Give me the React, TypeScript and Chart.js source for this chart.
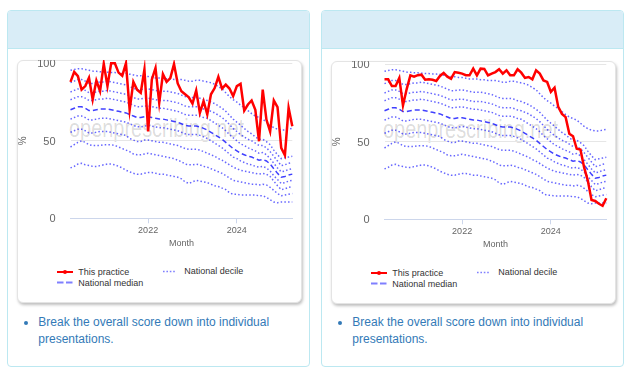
import React, { useEffect, useRef } from 'react';
import { Chart, registerables } from 'chart.js';

Chart.register(...registerables);

const FONT = "'Liberation Sans', Arial, Helvetica, sans-serif";

const MONTHS = [
  '2020-04', '2020-05', '2020-06', '2020-07', '2020-08', '2020-09', '2020-10', '2020-11', '2020-12',
  '2021-01', '2021-02', '2021-03', '2021-04', '2021-05', '2021-06', '2021-07', '2021-08', '2021-09', '2021-10', '2021-11', '2021-12',
  '2022-01', '2022-02', '2022-03', '2022-04', '2022-05', '2022-06', '2022-07', '2022-08', '2022-09', '2022-10', '2022-11', '2022-12',
  '2023-01', '2023-02', '2023-03', '2023-04', '2023-05', '2023-06', '2023-07', '2023-08', '2023-09', '2023-10', '2023-11', '2023-12',
  '2024-01', '2024-02', '2024-03', '2024-04', '2024-05', '2024-06', '2024-07', '2024-08', '2024-09', '2024-10', '2024-11', '2024-12',
  '2025-01', '2025-02', '2025-03', '2025-04',
];

const X_TICK_YEARS = ['2022', '2024'];
const Y_TICKS = [0, 50, 100];

const PRACTICE_LEFT = [
  88, 94.5, 91.7, 83, 85.3, 90.6, 76.6, 88.9, 82, 99.7,
  85.3, 100, 100, 94, 92, 100, 70, 88, 83, 81,
  96, 56, 89.5, 97, 74.5, 93, 88, 90.5, 99.5, 87,
  82, 80, 78, 74, 82.5, 68, 75.6, 67, 80, 84,
  91.3, 83.7, 86.3, 83.7, 78.8, 85.3, 86.8, 69.5, 73.4, 76,
  70, 49.7, 83, 63.7, 56, 76, 71.7, 45.4, 40.7, 71.3,
  59.4,
];

const PRACTICE_RIGHT = [
  90.3, 90.3, 86, 86, 91.2, 73.4, 84, 92.9, 92, 93,
  93.3, 90.1, 90.3, 90, 89.2, 92.5, 94.4, 92, 90.7, 95,
  94.5, 94, 93, 92.9, 97.2, 92.9, 97.2, 97, 92.9, 94,
  95, 96.8, 94, 96.1, 92.9, 92.9, 96.8, 94.6, 91.2, 91.8,
  90.3, 96.1, 94, 89.6, 88.6, 82.2, 84.9, 72.5, 68, 65.9,
  55.2, 53.6, 45.5, 45, 33.5, 25, 12.5, 11.8, 10, 8.7,
  13.6,
];

const DECILE_90 = [
  95.5, 96, 96.5, 96.5, 96, 95.5, 95, 94.8, 94.5, 94.5,
  94.3, 94, 94, 93.8, 93.7, 93.5, 93, 92.5, 92, 92,
  91.5, 91.5, 91, 90.5, 90.5, 90.5, 90, 90, 89.5, 89.5,
  89.5, 89, 88.5, 88.5, 89, 89, 88.5, 88, 87.5, 86.5,
  85, 83.5, 81, 78.5, 76.5, 75, 73, 71.5, 69.5, 67.5,
  66, 65, 64, 62, 60, 58.5, 57.5, 57, 57, 57.5,
  58,
];

const DECILE_80 = [
  87.5, 88.5, 89.5, 89.5, 88.5, 87, 87, 87.5, 88, 88,
  88.5, 88, 87.5, 87, 86.5, 86, 85, 84, 83, 83,
  83.5, 83.5, 83, 82.5, 82, 82, 82, 81.5, 81, 80.5,
  79.5, 78.5, 78, 78, 78, 77.5, 76.5, 76, 75, 74,
  72.5, 71, 69, 66.5, 64, 62, 60, 58, 56, 54.5,
  52.5, 51, 51, 49.5, 47.5, 44, 41, 38.5, 39, 39.5,
  40,
];

const DECILE_70 = [
  81.5, 82.5, 83.5, 83.5, 82.5, 81, 81, 81.5, 82, 82,
  82.5, 82, 81.5, 81, 80.5, 80, 79, 78, 77, 77,
  77.5, 77.5, 77, 76.5, 76, 76, 76, 75.5, 75, 74.5,
  73.5, 72.5, 72, 72, 72, 71.5, 70.5, 70, 69, 68,
  66.5, 65, 63, 60.5, 58, 56, 54, 52.5, 51, 50,
  48.5, 47, 47, 45.5, 43, 40, 37, 34, 34.5, 35.5,
  36,
];

const DECILE_60 = [
  76.5, 77.5, 78.5, 78.5, 77.5, 76, 76, 76.5, 77, 77,
  77.5, 77, 76.5, 76, 75.5, 75, 74, 73, 72, 72,
  72.5, 72.5, 72, 71.5, 71, 71, 70.5, 70, 69.5, 69,
  68, 67, 66.5, 66.5, 66.5, 66, 65, 64.5, 63, 61.5,
  60, 58.5, 56.5, 54, 52, 50, 48, 47, 45.5, 44.5,
  43.5, 42, 42.5, 41, 38.5, 35.5, 32.5, 30, 30.5, 31.5,
  32,
];

const MEDIAN = [
  70, 71, 72, 72, 71, 69.5, 69.5, 70, 70.5, 70.5,
  70.5, 70, 69.5, 69, 68.5, 68, 67, 66, 65, 65,
  65.5, 65.5, 65, 64.5, 64, 64, 63.5, 63, 62.5, 62,
  61, 60, 59.5, 59.5, 59.5, 59, 58, 57, 55.5, 54,
  52.5, 51, 49, 47, 45, 43.5, 42, 41, 40, 39.5,
  38.5, 37.5, 38, 37, 35, 32, 29, 26.5, 27, 28,
  28.5,
];

const DECILE_40 = [
  64, 65, 66, 66, 65, 63.5, 63.5, 64, 64.5, 64.5,
  64.5, 64, 63.5, 63, 62.5, 62, 61, 60, 59, 59,
  59.5, 60, 59.5, 59, 58.5, 58.5, 58, 57.5, 57, 56.5,
  55.5, 54.5, 54, 54, 54, 53.5, 52.5, 51.5, 50, 48.5,
  47, 45.5, 43.5, 41.5, 39.5, 38.5, 37, 36, 35, 34.5,
  33.5, 33, 33.5, 32.5, 30.5, 27.5, 25, 22.5, 23, 24,
  24.5,
];

const DECILE_30 = [
  55.5, 56.5, 57.5, 57.5, 56.5, 55, 55, 55.5, 56, 56,
  56, 55.5, 55, 54.5, 54, 53.5, 51.5, 50.5, 49.5, 49.5,
  50.5, 50.5, 50, 49.5, 49, 49, 48.5, 48, 47.5, 47,
  46, 45, 44.5, 44.5, 44.5, 44, 43, 42, 41, 40,
  38.5, 37.5, 36, 34.5, 33, 32, 31, 30.5, 30, 29.5,
  29, 28.5, 29, 28.5, 27, 24, 21, 18.5, 19, 20,
  20.5,
];

const DECILE_20 = [
  46, 47.5, 49, 50, 49, 47.5, 47, 47, 47, 47.5,
  47.5, 47.5, 47, 46, 45, 44, 43, 41.5, 41, 41,
  41.5, 42, 41.5, 41, 40.5, 40, 39.5, 39, 38.5, 37.5,
  36.5, 35, 34.5, 34.5, 35, 34.5, 33.5, 33, 32, 31,
  30, 29, 27.5, 26, 24.5, 24, 23.5, 23, 22.5, 22,
  22, 21.5, 22, 21.5, 20, 18, 16, 14.5, 15, 15.5,
  16,
];

const DECILE_10 = [
  32.5, 33.5, 35, 35.5, 34.5, 34, 33.5, 33.5, 34, 34.5,
  35, 35, 34.5, 33.5, 32.5, 31, 30, 29, 28.5, 28.5,
  29, 29.5, 29.5, 29, 28.5, 28.5, 28, 27.5, 27, 26.5,
  25.5, 23.5, 22.5, 23.5, 24.5, 24, 23.5, 23, 22, 21,
  20.5, 19.5, 18.5, 16.5, 15.5, 15.5, 15, 15, 15, 15,
  15, 14.5, 14.5, 13.5, 12, 10.5, 10, 10.5, 10.5, 10.5,
  10.5,
];

const DECILES = [DECILE_90, DECILE_80, DECILE_70, DECILE_60, DECILE_40, DECILE_30, DECILE_20, DECILE_10];

const RED = '#ff0000';
const DECILE_COLOR = 'rgba(0,0,255,0.6)';
const MEDIAN_COLOR = 'rgba(0,0,255,0.75)';
const LEGEND_BLUE = 'rgba(0,0,255,0.5)';

const CANVAS_W = 285;
const CANVAS_H = 195;

function isYearTick(m: string) {
  return m.endsWith('-01') && X_TICK_YEARS.includes(m.slice(0, 4));
}

function PlotCanvas({ practice }: { practice: number[] }) {
  const ref = useRef<HTMLCanvasElement>(null);
  useEffect(() => {
    const chart = new Chart(ref.current as HTMLCanvasElement, {
      type: 'line',
      data: {
        labels: MONTHS,
        datasets: [
          {
            label: 'This practice',
            data: practice,
            borderColor: RED,
            backgroundColor: RED,
            borderWidth: 2.5,
            pointRadius: 0,
            tension: 0,
            clip: 6,
          } as any,
          {
            label: 'National median',
            data: MEDIAN,
            borderColor: MEDIAN_COLOR,
            borderWidth: 1.5,
            borderDash: [5, 3],
            pointRadius: 0,
            tension: 0,
          },
          ...DECILES.map((d) => ({
            label: 'National decile',
            data: d,
            borderColor: DECILE_COLOR,
            borderWidth: 1.5,
            borderDash: [1.5, 2.2],
            pointRadius: 0,
            tension: 0,
          })),
        ],
      },
      options: {
        responsive: false,
        animation: false,
        devicePixelRatio: 1,
        events: [],
        layout: { padding: { top: 3.3, right: 9.7, left: 0, bottom: 0.7 } },
        plugins: { legend: { display: false }, tooltip: { enabled: false } },
        scales: {
          x: {
            type: 'category',
            offset: false,
            grid: { drawOnChartArea: false, drawTicks: true, tickLength: 5, color: '#ccd6eb', lineWidth: 1 },
            border: { display: true, color: '#ccd6eb', width: 1 },
            ticks: {
              autoSkip: false,
              maxRotation: 0,
              minRotation: 0,
              padding: 2,
              color: '#666666',
              font: { size: 9, family: FONT },
              callback: (v: any) => MONTHS[v as number].slice(0, 4),
            },
            afterBuildTicks: (s: any) => {
              s.ticks = s.ticks.filter((t: any) => isYearTick(MONTHS[t.value]));
            },
            afterFit: (s: any) => {
              s.height = 36;
              s.paddingLeft = 0;
              s.paddingRight = 0;
              s.paddingTop = 0;
              s.paddingBottom = 0;
            },
            title: {
              display: true,
              text: 'Month',
              color: '#666666',
              font: { size: 9, family: FONT },
              padding: { top: 0, bottom: 4.9 },
            },
          },
          y: {
            min: 0,
            max: 100,
            afterBuildTicks: (s: any) => {
              s.ticks = Y_TICKS.map((v) => ({ value: v }));
            },
            grid: {
              color: (c: any) => (c.tick && c.tick.value === 0 ? 'rgba(0,0,0,0)' : '#e6e6e6'),
              drawTicks: false,
              lineWidth: 1,
            },
            border: { display: false },
            ticks: {
              padding: 15,
              color: '#666666',
              font: { size: 11, family: FONT },
              labelOffset: 1,
            },
            afterFit: (s: any) => {
              s.width = 53.5;
              s.paddingTop = 0;
              s.paddingBottom = 0;
              s.paddingLeft = 0;
              s.paddingRight = 0;
            },
            title: {
              display: true,
              text: '%',
              color: '#666666',
              font: { size: 10, family: FONT },
              padding: 0,
            },
          },
        },
      } as any,
    });
    return () => chart.destroy();
  }, [practice]);
  return (
    <canvas
      ref={ref}
      width={CANVAS_W}
      height={CANVAS_H}
      style={{ position: 'absolute', left: 0, top: 0, width: CANVAS_W, height: CANVAS_H }}
    />
  );
}

const legendText: React.CSSProperties = {
  position: 'absolute',
  fontFamily: FONT,
  fontSize: 9,
  lineHeight: '11px',
  color: '#333333',
  whiteSpace: 'nowrap',
};

function Panel({ dx, dy, practice }: { dx: number; dy: number; practice: number[] }) {
  return (
    <>
      <div
        style={{
          position: 'absolute',
          left: 7 + dx,
          top: 10,
          width: 302.5,
          height: 356.5,
          border: '1px solid #bce8f1',
          borderRadius: 4,
          boxSizing: 'border-box',
          background: '#ffffff',
          overflow: 'hidden',
        }}
      >
        <div style={{ height: 37, background: '#d9edf7', borderBottom: '1px solid #bce8f1' }} />
      </div>
      <div
        style={{
          position: 'absolute',
          left: 17 + dx,
          top: 60 + dy,
          width: 285,
          height: 243,
          border: '1px solid #e4e4e4',
          borderRadius: 6,
          boxShadow: '1px 2px 3px rgba(0,0,0,0.25)',
          boxSizing: 'border-box',
          background: '#ffffff',
        }}
      />
      <div
        style={{
          position: 'absolute',
          left: 69 + dx,
          top: 114.9 + dy,
          fontFamily: FONT,
          fontSize: 26.5,
          lineHeight: '26.5px',
          color: 'rgba(0,0,0,0.15)',
          whiteSpace: 'nowrap',
          transform: 'scaleX(0.752)',
          transformOrigin: 'left top',
        }}
      >
        openprescribing.net
      </div>
      <div style={{ position: 'absolute', left: 17 + dx, top: 60 + dy, width: CANVAS_W, height: CANVAS_H }}>
        <PlotCanvas practice={practice} />
      </div>
      <div style={{ position: 'absolute', left: 57.3 + dx, top: 270.5 + dy, width: 15.4, height: 2.5, background: RED }} />
      <div
        style={{
          position: 'absolute',
          left: 63 + dx,
          top: 269.7 + dy,
          width: 4,
          height: 4,
          borderRadius: '50%',
          background: RED,
        }}
      />
      <div style={{ ...legendText, left: 78.3 + dx, top: 267.2 + dy }}>This practice</div>
      <svg style={{ position: 'absolute', left: 162.5 + dx, top: 269.5 + dy }} width={12} height={3}>
        <line x1={0} y1={1.5} x2={12} y2={1.5} stroke={LEGEND_BLUE} strokeWidth={1.6} strokeDasharray="1.6 1.8" />
      </svg>
      <div style={{ ...legendText, left: 184.3 + dx, top: 265.8 + dy }}>National decile</div>
      <svg style={{ position: 'absolute', left: 57.3 + dx, top: 281 + dy }} width={16} height={3}>
        <line x1={0} y1={1.5} x2={16} y2={1.5} stroke={LEGEND_BLUE} strokeWidth={2.2} strokeDasharray="6.5 2.5" />
      </svg>
      <div style={{ ...legendText, left: 78.3 + dx, top: 277.6 + dy }}>National median</div>
      <ul
        style={{
          position: 'absolute',
          left: 18.3 + dx,
          top: 313.5,
          margin: 0,
          paddingLeft: 20,
          width: 262,
          fontFamily: FONT,
          fontSize: 12,
          lineHeight: '17.6px',
          color: '#337ab7',
          listStyleType: 'disc',
        }}
      >
        <li>Break the overall score down into individual presentations.</li>
      </ul>
    </>
  );
}

export default function App() {
  return (
    <div style={{ position: 'absolute', left: 0, top: 0, width: 631, height: 374, background: '#ffffff', overflow: 'hidden' }}>
      <Panel dx={0} dy={0} practice={PRACTICE_LEFT} />
      <Panel dx={314} dy={1} practice={PRACTICE_RIGHT} />
    </div>
  );
}
